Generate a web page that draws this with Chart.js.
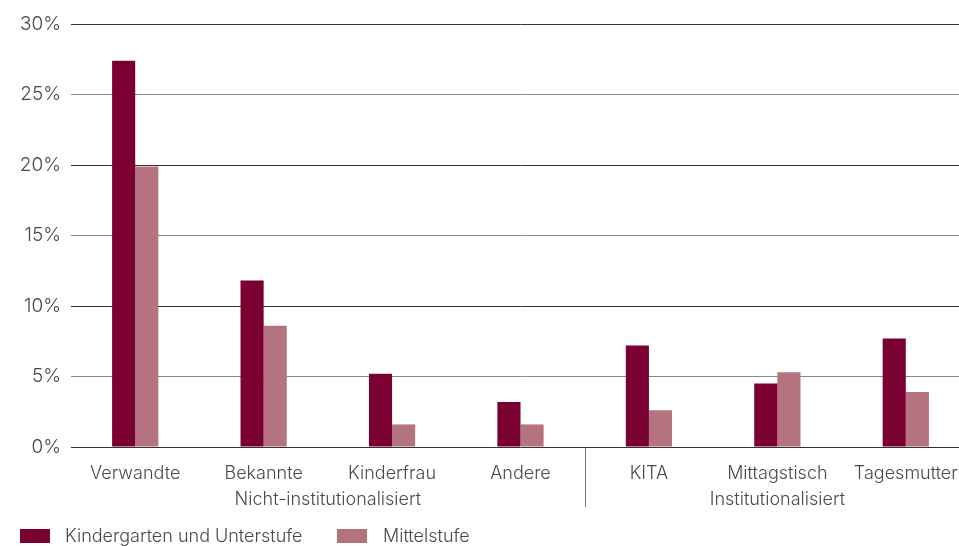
<!DOCTYPE html>
<html>
<head>
<meta charset="utf-8">
<script src="https://cdn.jsdelivr.net/npm/chart.js@4/dist/chart.umd.min.js"></script>
<style>
  html, body { margin: 0; padding: 0; background: #fff; overflow: hidden; }
  #wrap { position: relative; width: 975px; height: 546px; }
  #chart { position: absolute; left: 0; top: 0; }
  .legend { position: absolute; top: 526px; font-family: Inter, "Liberation Sans", sans-serif; font-weight: 300; font-size: 18px; color: #4a4a4a; line-height: 20px; white-space: nowrap; }
  .legend .sw { position: absolute; top: 3px; width: 30px; height: 14px; }
</style>
</head>
<body>
<div id="wrap">
  <canvas id="chart" width="975" height="546"></canvas>
  <div class="legend" style="left:20px"><span class="sw" style="left:0;background:#7b0032"></span><span style="margin-left:45px">Kindergarten und Unterstufe</span></div>
  <div class="legend" style="left:337px"><span class="sw" style="left:0;background:#b5727f"></span><span style="margin-left:46px">Mittelstufe</span></div>
</div>
<script>
const categories = ['Verwandte', 'Bekannte', 'Kinderfrau', 'Andere', 'KITA', 'Mittagstisch', 'Tagesmutter'];
const groups = [
  { label: 'Nicht-institutionalisiert', from: 0, to: 3 },
  { label: 'Institutionalisiert', from: 4, to: 6 }
];
const kindergartenUnterstufe = [27.4, 11.8, 5.2, 3.2, 7.2, 4.5, 7.7];
const mittelstufe = [19.9, 8.6, 1.6, 1.6, 2.6, 5.3, 3.9];
const seriesNames = ['Kindergarten und Unterstufe', 'Mittelstufe'];
const yTicks = [0, 5, 10, 15, 20, 25, 30];

const FONT = 'Inter, "Liberation Sans", sans-serif';
const TEXT = '#4a4a4a';

// group captions under the category labels plus the divider between groups
const groupAxis = {
  id: 'groupAxis',
  afterDraw(chart) {
    const { ctx, scales: { x }, chartArea } = chart;
    const half = (x.getPixelForValue(1) - x.getPixelForValue(0)) / 2;
    ctx.save();
    ctx.font = '300 18px ' + FONT;
    ctx.fillStyle = TEXT;
    ctx.textAlign = 'center';
    ctx.textBaseline = 'middle';
    groups.forEach(g => {
      const cx = (x.getPixelForValue(g.from) + x.getPixelForValue(g.to)) / 2;
      ctx.fillText(g.label, cx, chartArea.bottom + 53);
    });
    ctx.strokeStyle = '#777';
    ctx.lineWidth = 1;
    for (let i = 1; i < groups.length; i++) {
      const sx = Math.round(x.getPixelForValue(groups[i].from) - half) + 0.5;
      ctx.beginPath();
      ctx.moveTo(sx, chartArea.bottom + 1);
      ctx.lineTo(sx, chartArea.bottom + 60);
      ctx.stroke();
    }
    ctx.restore();
  }
};

new Chart(document.getElementById('chart'), {
  type: 'bar',
  data: {
    labels: categories,
    datasets: [
      { label: seriesNames[0], data: kindergartenUnterstufe, backgroundColor: '#7b0032' },
      { label: seriesNames[1], data: mittelstufe, backgroundColor: '#b5727f' }
    ]
  },
  options: {
    responsive: false,
    animation: false,
    layout: { padding: { top: 24, right: 5, left: 0, bottom: 0 } },
    datasets: { bar: { barPercentage: 1, categoryPercentage: 0.36 } },
    plugins: { legend: { display: false }, tooltip: { enabled: false } },
    scales: {
      x: {
        grid: { display: false, drawTicks: false },
        border: { display: false },
        ticks: { color: TEXT, font: { family: FONT, size: 18, weight: 300 }, padding: 16, maxRotation: 0, autoSkip: false },
        afterFit(s) { s.height = 99; }
      },
      y: {
        min: 0, max: 30,
        afterBuildTicks(s) { s.ticks = yTicks.map(v => ({ value: v })); },
        grid: {
          color: ctx => (ctx.index % 2 === 0 ? '#333' : '#8a8a8a'),
          lineWidth: 1,
          drawTicks: false
        },
        border: { display: false },
        ticks: { color: TEXT, font: { family: FONT, size: 19, weight: 300 }, padding: 10, callback: v => v + '%' },
        afterFit(s) { s.width = 71; }
      }
    }
  },
  plugins: [groupAxis]
});
</script>
</body>
</html>
